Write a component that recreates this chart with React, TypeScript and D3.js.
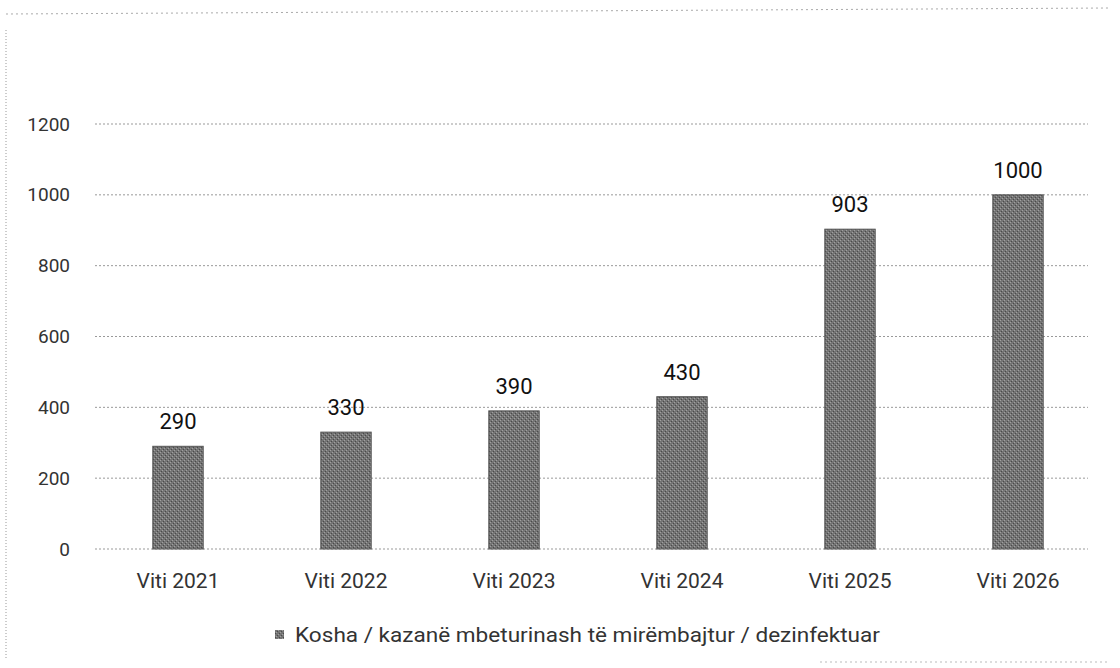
import React from "react";
import * as d3 from "d3";

const categories = ["Viti 2021", "Viti 2022", "Viti 2023", "Viti 2024", "Viti 2025", "Viti 2026"];
const values = [290, 330, 390, 430, 903, 1000];
const yTicks = [0, 200, 400, 600, 800, 1000, 1200];
const seriesName = "Kosha / kazanë mbeturinash të mirëmbajtur / dezinfektuar";

const W = 1120;
const H = 668;

export default function App() {
  const x = d3.scaleBand<string>().domain(categories).range([94, 1102]).paddingInner(0.7).paddingOuter(0.35);
  const y = d3.scaleLinear().domain([0, 1200]).range([549, 124]);
  const font = "Roboto, 'Noto Sans', sans-serif";
  return (
    <svg width={W} height={H} style={{ position: "absolute", left: 0, top: 0, background: "#fff" }} fontFamily={font}>
      <defs>
        <pattern id="grain" width="4" height="4" patternUnits="userSpaceOnUse">
          <rect width="4" height="4" fill="#747474" />
          <rect x="0" y="0" width="1" height="1" fill="#a0a0a0" />
          <rect x="2" y="2" width="1" height="1" fill="#a0a0a0" />
          <rect x="1" y="3" width="1" height="1" fill="#4a4a4a" />
          <rect x="3" y="1" width="1" height="1" fill="#4a4a4a" />
        </pattern>
      </defs>
      {/* scan border */}
      <line x1={6} y1={30} x2={6} y2={660} stroke="#999" strokeDasharray="1 2" strokeWidth={1} />
      <line x1={6} y1={14} x2={1110} y2={8} stroke="#aaa" strokeDasharray="2 3" strokeWidth={1} />
      <line x1={820} y1={662} x2={1110} y2={662} stroke="#bbb" strokeDasharray="2 3" strokeWidth={1} />
      {yTicks.map((t) => (
        <g key={t}>
          <line x1={95} x2={1088} y1={y(t)} y2={y(t)} stroke="#999" strokeWidth={1} strokeDasharray="2 2" />
          <text x={70} y={y(t)} dy="0.35em" textAnchor="end" fontSize={19} fill="#333">{t}</text>
        </g>
      ))}
      {categories.map((c, i) => {
        const bx = x(c)!;
        const bw = x.bandwidth();
        return (
          <g key={c}>
            <rect x={bx} y={y(values[i])} width={bw} height={y(0) - y(values[i])} fill="url(#grain)" stroke="#555" strokeWidth={1} />
            <text x={bx + bw / 2} y={y(values[i]) - 17} textAnchor="middle" fontSize={22} fill="#111">{values[i]}</text>
            <text x={bx + bw / 2} y={588} textAnchor="middle" fontSize={21} fill="#333">{c}</text>
          </g>
        );
      })}
      <rect x={275} y={630} width={9} height={9} fill="url(#grain)" />
      <text x={295} y={642} fontSize={21} fill="#333" textLength={585} lengthAdjust="spacingAndGlyphs">{seriesName}</text>
    </svg>
  );
}
